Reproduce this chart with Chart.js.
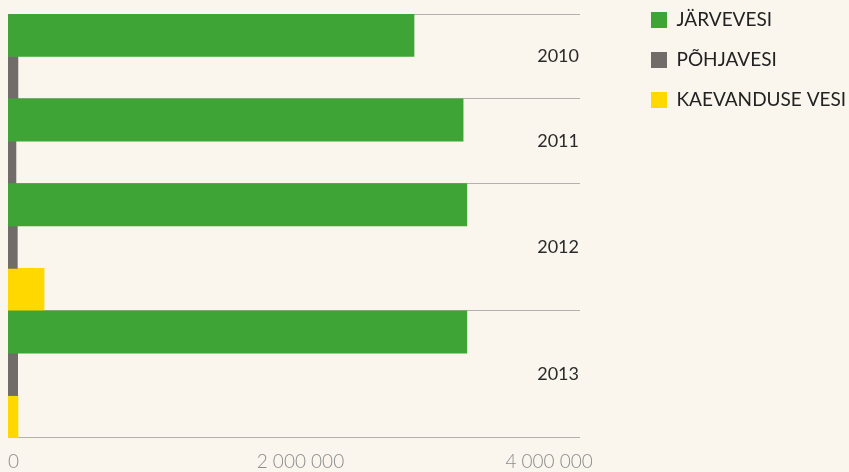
<!DOCTYPE html>
<html>
<head>
<meta charset="utf-8">
<script src="https://cdn.jsdelivr.net/npm/chart.js@4"></script>
<style>
  html, body { margin: 0; padding: 0; background: #faf6ee; }
  #wrap { width: 849px; height: 472px; position: relative; }
</style>
</head>
<body>
<div id="wrap"><canvas id="barChart"></canvas></div>
<script>
// values (m3)
const years = ['2010', '2011', '2012', '2013'];
const seriesNames = ['JÄRVEVESI', 'PÕHJAVESI', 'KAEVANDUSE VESI'];
const jarvevesi = [3265000, 3660000, 3690000, 3690000];
const pohjavesi = [80000, 64000, 75000, 78000];
const kaevanduseVesi = [null, null, 290000, 80000];
const xTicks = [0, 2000000, 4000000];
const seriesColors = ['#3ea435', '#716c69', '#ffd800'];

const series = [jarvevesi, pohjavesi, kaevanduseVesi];

// one row per bar, empty series are left out of the year
const rows = [];
for (let y = 0; y < years.length; y++) {
  for (let s = 0; s < series.length; s++) {
    if (series[s][y] !== null) rows.push({ year: y, s: s });
  }
}

const datasets = series.map((vals, s) => ({
  label: seriesNames[s],
  data: rows.map(r => r.s === s ? vals[r.year] : null),
  backgroundColor: seriesColors[s],
  borderWidth: 0,
  grouped: false,
  barPercentage: 1,
  categoryPercentage: 1
}));

function fmt(v) {
  return String(v).replace(/\B(?=(\d{3})+(?!\d))/g, ' ');
}

const yearLabels = {
  id: 'yearLabels',
  afterDatasetsDraw(chart) {
    const ctx = chart.ctx;
    const yScale = chart.scales.y;
    ctx.save();
    ctx.font = '18px Lato';
    ctx.fillStyle = '#2b2b2b';
    ctx.textAlign = 'right';
    ctx.textBaseline = 'middle';
    years.forEach((yr, y) => {
      const idx = rows.map((r, i) => r.year === y ? i : -1).filter(i => i >= 0);
      const top = yScale.getPixelForValue(idx[0]);
      const bot = yScale.getPixelForValue(idx[idx.length - 1]);
      ctx.fillText(yr, chart.chartArea.right - 1, (top + bot) / 2);
    });
    ctx.restore();
  }
};

// legend sits in its own column to the right of the plot
const legendPlace = {
  id: 'legendPlace',
  beforeLayout(chart) {
    const lg = chart.legend;
    if (lg && !lg._patched) {
      const fit = lg.fit;
      lg.fit = function () { fit.call(this); this.width = 269; };
      lg._patched = true;
    }
  },
  afterLayout(chart) {
    chart.legend.left = 630;
    chart.legend.top = -10.5;
  }
};

var ctxB = document.getElementById('barChart').getContext('2d');
var myBarChart = new Chart(ctxB, {
  type: 'bar',
  data: {
    labels: rows.map(r => years[r.year] + ' ' + seriesNames[r.s]),
    datasets: datasets
  },
  options: {
    indexAxis: 'y',
    responsive: true,
    maintainAspectRatio: false,
    animation: false,
    layout: { padding: { left: 8, top: 14, right: 0, bottom: -13 } },
    scales: {
      x: {
        min: 0,
        max: 4600000,
        afterBuildTicks: scale => { scale.ticks = xTicks.map(v => ({ value: v })); },
        afterFit: scale => { scale.paddingLeft = 0; },
        grid: { display: false, drawTicks: false },
        border: { display: false },
        ticks: {
          align: 'start',
          padding: 14,
          color: '#8c8c8c',
          font: { family: 'Lato', size: 19, weight: '300', lineHeight: 1 },
          callback: v => fmt(v)
        }
      },
      y: {
        grid: {
          drawTicks: false,
          lineWidth: 1,
          color: c => {
            if (c.type !== 'tick') return '#b3b1ad';
            const i = c.index;
            if (i === 0 || rows[i].year !== rows[i - 1].year) return '#b3b1ad';
            return 'rgba(0,0,0,0)';
          }
        },
        border: { display: false },
        ticks: { display: false }
      }
    },
    plugins: {
      legend: {
        position: 'right',
        align: 'start',
        labels: {
          boxWidth: 16,
          boxHeight: 16,
          padding: 21,
          color: '#222',
          font: { family: 'Lato', size: 19 }
        }
      },
      tooltip: { enabled: false }
    }
  },
  plugins: [yearLabels, legendPlace]
});
</script>
</body>
</html>
